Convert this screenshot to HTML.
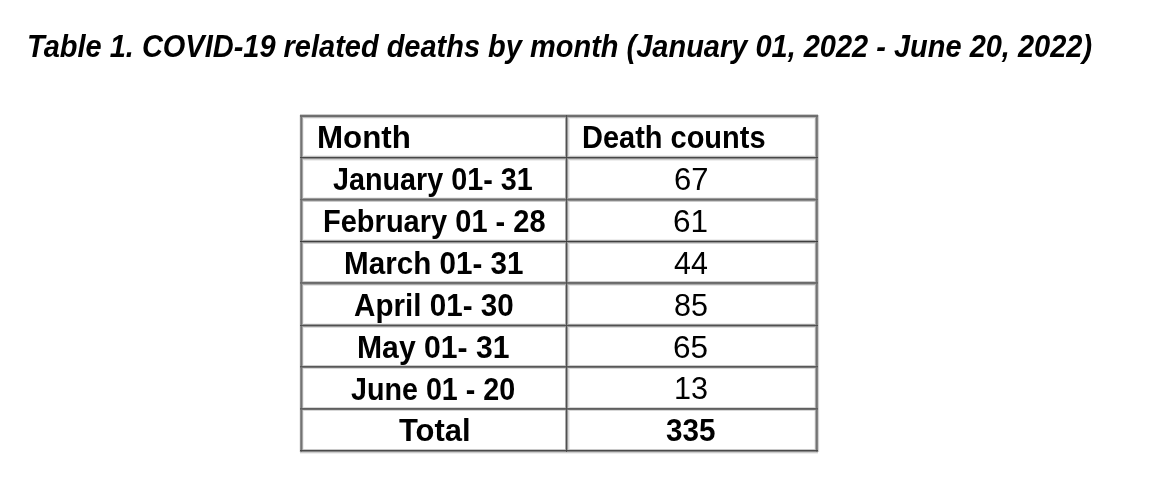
<!DOCTYPE html>
<html><head><meta charset="utf-8"><style>
html,body{margin:0;padding:0;background:#fff;}
body{width:1160px;height:488px;position:relative;overflow:hidden;font-family:"Liberation Sans",sans-serif;color:#000;}
#w{position:absolute;left:0;top:0;width:1160px;height:488px;}
#lines i{position:absolute;display:block;mix-blend-mode:darken;}
.t{position:absolute;white-space:nowrap;line-height:normal;transform-origin:0 0;}
</style></head><body><div id="w">
<div id="lines" style="position:absolute;left:0;top:0;width:1160px;height:488px;background:#fff;isolation:isolate">
<i style="left:300px;top:114px;width:518px;height:1px;background:#cccccc"></i>
<i style="left:300px;top:115px;width:518px;height:1px;background:#707070"></i>
<i style="left:300px;top:116px;width:518px;height:1px;background:#6c6c6c"></i>
<i style="left:300px;top:117px;width:518px;height:1px;background:#bbbbbb"></i>
<i style="left:300px;top:118px;width:518px;height:1px;background:#eeeeee"></i>
<i style="left:300px;top:155px;width:518px;height:1px;background:#eeeeee"></i>
<i style="left:300px;top:156px;width:518px;height:1px;background:#bebebe"></i>
<i style="left:300px;top:157px;width:518px;height:1px;background:#474747"></i>
<i style="left:300px;top:158px;width:518px;height:1px;background:#8c8c8c"></i>
<i style="left:300px;top:159px;width:518px;height:1px;background:#cdcdcd"></i>
<i style="left:300px;top:160px;width:518px;height:1px;background:#eeeeee"></i>
<i style="left:300px;top:197px;width:518px;height:1px;background:#eeeeee"></i>
<i style="left:300px;top:198px;width:518px;height:1px;background:#9a9a9a"></i>
<i style="left:300px;top:199px;width:518px;height:1px;background:#6a6a6a"></i>
<i style="left:300px;top:200px;width:518px;height:1px;background:#888888"></i>
<i style="left:300px;top:201px;width:518px;height:1px;background:#cccccc"></i>
<i style="left:300px;top:239px;width:518px;height:1px;background:#eeeeee"></i>
<i style="left:300px;top:240px;width:518px;height:1px;background:#aaaaaa"></i>
<i style="left:300px;top:241px;width:518px;height:1px;background:#3f3f3f"></i>
<i style="left:300px;top:242px;width:518px;height:1px;background:#999999"></i>
<i style="left:300px;top:243px;width:518px;height:1px;background:#d5d5d5"></i>
<i style="left:300px;top:281px;width:518px;height:1px;background:#cccccc"></i>
<i style="left:300px;top:282px;width:518px;height:1px;background:#6a6a6a"></i>
<i style="left:300px;top:283px;width:518px;height:1px;background:#707070"></i>
<i style="left:300px;top:284px;width:518px;height:1px;background:#aaaaaa"></i>
<i style="left:300px;top:285px;width:518px;height:1px;background:#e5e5e5"></i>
<i style="left:300px;top:323px;width:518px;height:1px;background:#eeeeee"></i>
<i style="left:300px;top:324px;width:518px;height:1px;background:#999999"></i>
<i style="left:300px;top:325px;width:518px;height:1px;background:#505050"></i>
<i style="left:300px;top:326px;width:518px;height:1px;background:#999999"></i>
<i style="left:300px;top:327px;width:518px;height:1px;background:#dddddd"></i>
<i style="left:300px;top:365px;width:518px;height:1px;background:#cdcdcd"></i>
<i style="left:300px;top:366px;width:518px;height:1px;background:#585858"></i>
<i style="left:300px;top:367px;width:518px;height:1px;background:#767676"></i>
<i style="left:300px;top:368px;width:518px;height:1px;background:#d7d7d7"></i>
<i style="left:300px;top:407px;width:518px;height:1px;background:#d7d7d7"></i>
<i style="left:300px;top:408px;width:518px;height:1px;background:#5f5f5f"></i>
<i style="left:300px;top:409px;width:518px;height:1px;background:#6e6e6e"></i>
<i style="left:300px;top:410px;width:518px;height:1px;background:#d7d7d7"></i>
<i style="left:300px;top:449px;width:518px;height:1px;background:#c8c8c8"></i>
<i style="left:300px;top:450px;width:518px;height:1px;background:#4a4a4a"></i>
<i style="left:300px;top:451px;width:518px;height:1px;background:#888888"></i>
<i style="left:300px;top:452px;width:518px;height:1px;background:#cccccc"></i>
<i style="left:300px;top:453px;width:518px;height:1px;background:#eeeeee"></i>
<i style="left:299px;top:115px;width:1px;height:337px;background:#eeeeee"></i>
<i style="left:300px;top:115px;width:1px;height:337px;background:#8c8c8c"></i>
<i style="left:301px;top:115px;width:1px;height:337px;background:#737373"></i>
<i style="left:302px;top:115px;width:1px;height:337px;background:#a5a5a5"></i>
<i style="left:303px;top:115px;width:1px;height:337px;background:#eeeeee"></i>
<i style="left:565px;top:115px;width:1px;height:337px;background:#aaaaaa"></i>
<i style="left:566px;top:115px;width:1px;height:337px;background:#505050"></i>
<i style="left:567px;top:115px;width:1px;height:337px;background:#999999"></i>
<i style="left:568px;top:115px;width:1px;height:337px;background:#d8d8d8"></i>
<i style="left:569px;top:115px;width:1px;height:337px;background:#eeeeee"></i>
<i style="left:814px;top:115px;width:1px;height:337px;background:#f0f0f0"></i>
<i style="left:815px;top:115px;width:1px;height:337px;background:#aaaaaa"></i>
<i style="left:816px;top:115px;width:1px;height:337px;background:#737373"></i>
<i style="left:817px;top:115px;width:1px;height:337px;background:#828282"></i>
<i style="left:818px;top:115px;width:1px;height:337px;background:#d2d2d2"></i>
<i style="left:819px;top:115px;width:1px;height:337px;background:#fafafa"></i>
</div>
<div class="t" style="font-weight:bold;font-style:italic;font-size:30.5px;left:26.90px;top:28.50px;transform:scaleX(0.9501)">Table 1. COVID-19 related deaths by month (January 01, 2022 - June 20, 2022)</div>
<div class="t" style="font-weight:bold;font-style:normal;font-size:30.5px;left:317.45px;top:120.40px;transform:scaleX(1.0261)">Month</div>
<div class="t" style="font-weight:bold;font-style:normal;font-size:30.5px;left:582.10px;top:120.40px;transform:scaleX(0.9500)">Death counts</div>
<div class="t" style="font-weight:bold;font-style:normal;font-size:30.5px;left:333.16px;top:162.30px;transform:scaleX(0.9424)">January 01- 31</div>
<div class="t" style="font-weight:bold;font-style:normal;font-size:30.5px;left:322.80px;top:204.20px;transform:scaleX(0.9515)">February 01 - 28</div>
<div class="t" style="font-weight:bold;font-style:normal;font-size:30.5px;left:343.66px;top:246.10px;transform:scaleX(0.9709)">March 01- 31</div>
<div class="t" style="font-weight:bold;font-style:normal;font-size:30.5px;left:354.33px;top:288.10px;transform:scaleX(0.9710)">April 01- 30</div>
<div class="t" style="font-weight:bold;font-style:normal;font-size:30.5px;left:357.02px;top:330.10px;transform:scaleX(0.9887)">May 01- 31</div>
<div class="t" style="font-weight:bold;font-style:normal;font-size:30.5px;left:351.06px;top:371.80px;transform:scaleX(0.9405)">June 01 - 20</div>
<div class="t" style="font-weight:bold;font-style:normal;font-size:30.5px;left:399.40px;top:413.30px;transform:scaleX(1.0147)">Total</div>
<div class="t" style="font-weight:normal;font-style:normal;font-size:32px;left:673.86px;top:160.94px;transform:scaleX(0.9688)">67</div>
<div class="t" style="font-weight:normal;font-style:normal;font-size:32px;left:673.33px;top:202.84px;transform:scaleX(0.9844)">61</div>
<div class="t" style="font-weight:normal;font-style:normal;font-size:32px;left:673.95px;top:244.74px;transform:scaleX(0.9500)">44</div>
<div class="t" style="font-weight:normal;font-style:normal;font-size:32px;left:674.35px;top:286.74px;transform:scaleX(0.9545)">85</div>
<div class="t" style="font-weight:normal;font-style:normal;font-size:32px;left:673.33px;top:328.74px;transform:scaleX(0.9844)">65</div>
<div class="t" style="font-weight:normal;font-style:normal;font-size:32px;left:674.29px;top:370.44px;transform:scaleX(0.9562)">13</div>
<div class="t" style="font-weight:bold;font-style:normal;font-size:31px;left:666.24px;top:412.84px;transform:scaleX(0.9560)">335</div>
</div></body></html>
